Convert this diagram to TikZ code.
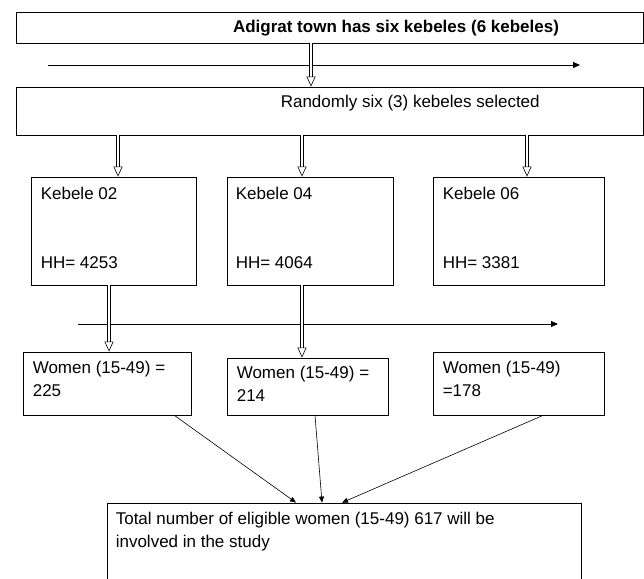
\documentclass[tikz,border=0pt]{standalone}
\usepackage{fontspec}
\setmainfont{Liberation Sans}
\usepackage{tikz}
\usetikzlibrary{positioning, arrows.meta, calc}
\tikzstyle{box} = [rectangle, draw=black, line width=0.8pt, inner sep=0pt]
\tikzstyle{txt} = [inner sep=0pt, align=left, anchor=north west, font=\fontsize{17}{22.5}\selectfont]
\tikzstyle{dbl} = [double, double distance=2.4pt, line width=0.6pt, -{Triangle[open, length=10pt, width=9pt, line width=0.6pt]}]
\tikzstyle{arrow} = [line width=0.6pt, -{Triangle[length=6pt, width=5pt]}]
\tikzstyle{harrow} = [line width=0.9pt, -{Triangle[length=7pt, width=6pt]}]

\begin{document}
\begin{tikzpicture}[x=1pt, y=-1pt]
\clip (0,0) rectangle (644,578);

\node (Top) [box, minimum width=627, minimum height=31] at (329.5,27.5) {};
\node (TopText) [txt, anchor=north, font=\fontsize{17}{22.5}\selectfont\bfseries] at ([shift={(66.5,8.4)}]Top.north) {Adigrat town has six kebeles (6 kebeles)};

\node (Sel) [box, minimum width=627, minimum height=48] at (329.5,111) {};
\node (SelText) [txt] at ([shift={(265,8.5)}]Sel.north west) {Randomly six (3) kebeles selected};

\node (K02) [box, minimum width=165, minimum height=108] at (113.5,231) {};
\node (K04) [box, minimum width=166, minimum height=108] at (310,231) {};
\node (K06) [box, minimum width=171, minimum height=108] at (518.5,231) {};
\node (K02Text) [txt] at ([shift={(10,10.5)}]K02.north west) {Kebele 02\\[46.5pt]HH= 4253};
\node (K04Text) [txt] at ([shift={(9,10.5)}]K04.north west) {Kebele 04\\[46.5pt]HH= 4064};
\node (K06Text) [txt] at ([shift={(10,10.5)}]K06.north west) {Kebele 06\\[46.5pt]HH= 3381};

\node (W1) [box, minimum width=168, minimum height=63] at (107,383.5) {};
\node (W2) [box, minimum width=161, minimum height=57] at (307.5,386.5) {};
\node (W3) [box, minimum width=171, minimum height=63] at (518.5,383.5) {};
\node (W1Text) [txt] at ([shift={(10,9.5)}]W1.north west) {Women (15-49) =\\225};
\node (W2Text) [txt] at ([shift={(10,8.5)}]W2.north west) {Women (15-49) =\\214};
\node (W3Text) [txt] at ([shift={(10,9.5)}]W3.north west) {Women (15-49)\\=178};

\node (Total) [box, minimum width=474, minimum height=100] at (344,553) {};
\node (TotalText) [txt] at ([shift={(9,9.5)}]Total.north west) {Total number of eligible women (15-49) 617 will be\\involved in the study};

% horizontal arrows
\coordinate (H1a) at (48,65);
\coordinate (H1b) at (580,65);
\coordinate (H2a) at (78,324);
\coordinate (H2b) at (558,324);
\draw [harrow] (H1a) -- (H1b);
\draw [harrow] (H2a) -- (H2b);

% double arrows
\draw [dbl] ([xshift=-18.5]Top.south) -- ([xshift=-18.5]Top.south |- Sel.north);
\draw [dbl] ([xshift=-211.5]Sel.south) -- ([xshift=-211.5]Sel.south |- K02.north);
\draw [dbl] ([xshift=-27.5]Sel.south) -- ([xshift=-27.5]Sel.south |- K04.north);
\draw [dbl] ([xshift=197.5]Sel.south) -- ([xshift=197.5]Sel.south |- K06.north);
\draw [dbl] ([xshift=-4.5]K02.south) -- ([xshift=-4.5]K02.south |- W1.north);
\draw [dbl] ([xshift=-8]K04.south) -- ([xshift=-8]K04.south |- W2.north);

\draw [arrow] ([xshift=-17]W1.south east) -- ([xshift=-48]Total.north);
\draw [arrow] ([xshift=7.5]W2.south) -- ([xshift=-22]Total.north);
\draw [arrow] ([xshift=24.5]W3.south) -- ([xshift=-2]Total.north);
\end{tikzpicture}
\end{document}
